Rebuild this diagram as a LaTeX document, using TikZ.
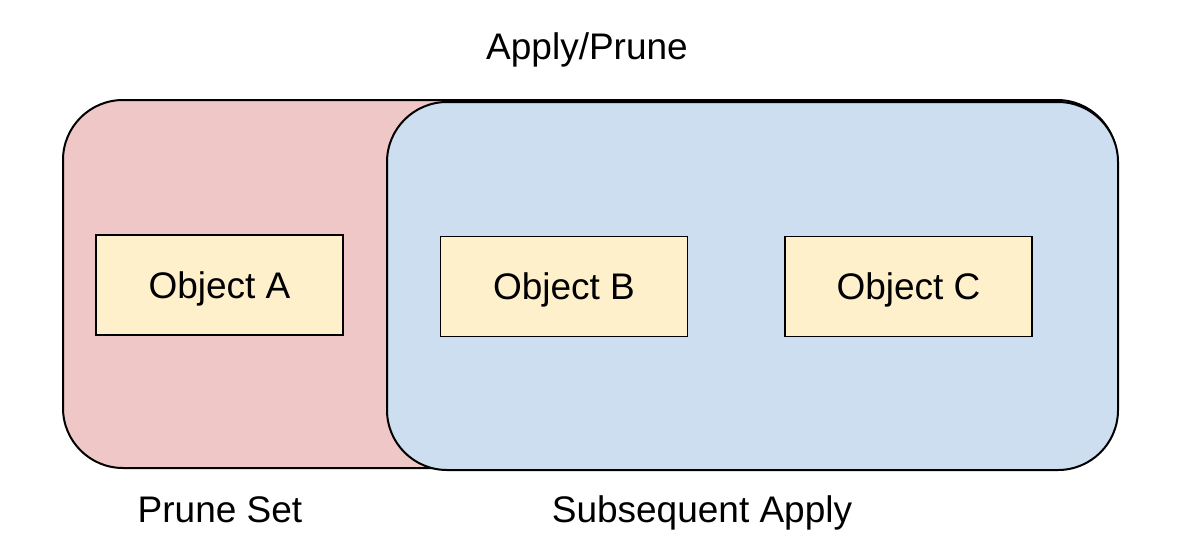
\documentclass[tikz,border=0pt]{standalone}
\usepackage{fontspec}
\setmainfont{Liberation Sans}
\definecolor{prunered}{HTML}{F0C7C7}
\definecolor{applyblue}{HTML}{CCDEEF}
\definecolor{objyellow}{HTML}{FFF0CC}
\begin{document}
\begin{tikzpicture}[x=0.5pt,y=-0.5pt,
  setbox/.style={draw=black,line width=1pt,rounded corners=30pt,inner sep=0pt},
  capfont/.style={font=\fontsize{18.5}{22}\selectfont,text height=13.25pt,text depth=0pt},
  objbox/.style={capfont,draw=black,line width=0.8pt,fill=objyellow,inner sep=0pt,minimum width=123.5pt,minimum height=50pt},
  lbl/.style={capfont,inner sep=0pt}]
\useasboundingbox (0,0) rectangle (1188,552);
\node[setbox,fill=prunered,minimum width=527pt,minimum height=184pt] (prune) at (590,284) {};
\node[setbox,fill=applyblue,minimum width=365.5pt,minimum height=184pt] (apply) at (752.5,286) {};
\node[objbox] (a) at (219.5,285) {Object A};
\node[objbox] (b) at (564,286.5) {Object B};
\node[objbox] (c) at (908.5,286.5) {Object C};
\node[lbl] (t1) at (587,46.5) {Apply/Prune};
\node[lbl] (t2) at (220,509) {Prune Set};
\node[lbl] (t3) at (702,509) {Subsequent Apply};
\end{tikzpicture}
\end{document}
